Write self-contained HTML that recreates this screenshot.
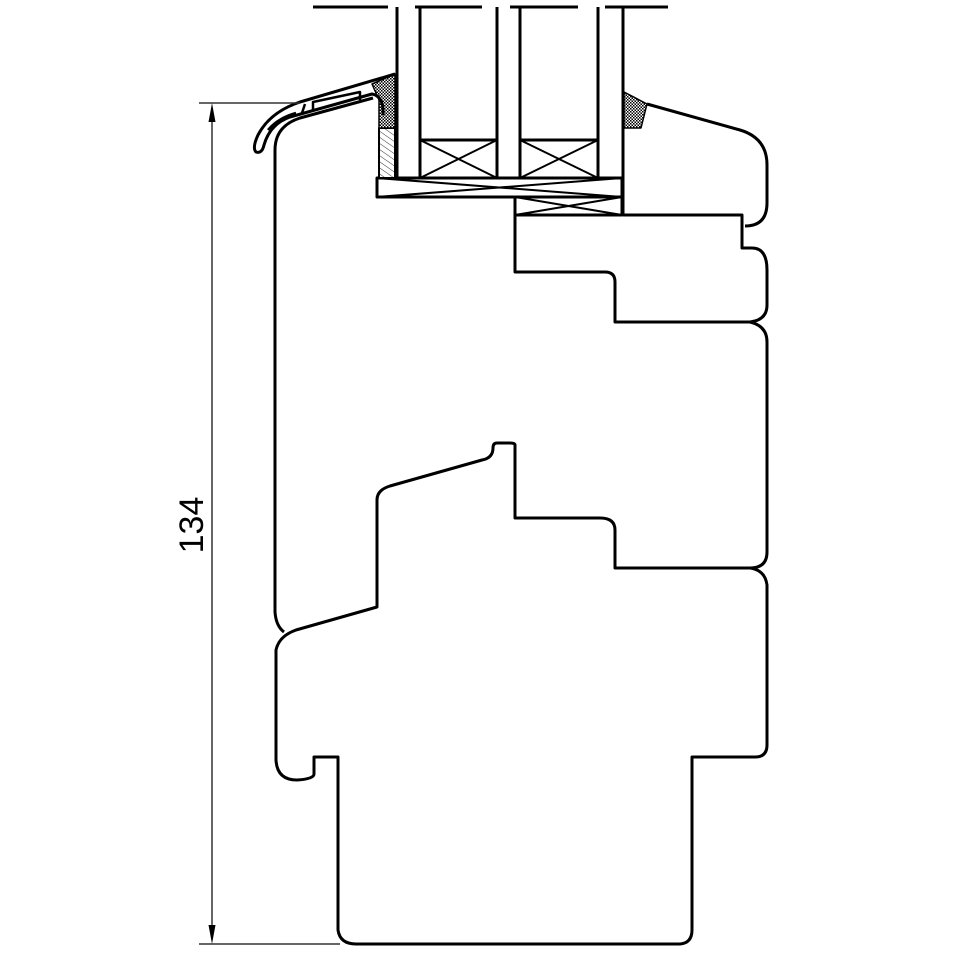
<!DOCTYPE html>
<html><head><meta charset="utf-8"><style>html,body{margin:0;padding:0;background:#fff}svg{display:block}</style></head>
<body>
<svg width="960" height="960" viewBox="0 0 960 960" xmlns="http://www.w3.org/2000/svg">
<defs>
<pattern id="dots" width="3" height="3" patternUnits="userSpaceOnUse"><rect width="3" height="3" fill="#fff"/><rect width="1.5" height="1.5" fill="#000"/><rect x="1.5" y="1.5" width="1.5" height="1.5" fill="#000"/></pattern>
<pattern id="hatch" width="5" height="5" patternUnits="userSpaceOnUse" patternTransform="rotate(-55)"><rect width="5" height="5" fill="#fff"/><line x1="0" y1="0" x2="0" y2="5" stroke="#333" stroke-width="1"/></pattern>
</defs>
<g fill="none" stroke="#000" stroke-width="3" stroke-linejoin="round">
<path d="M313 7H388 M415 7H482 M510 7H578 M605 7H668"/>
<path d="M397 7V178 M420 7V178 M497 7V178 M520 7V178 M598 7V178 M623 7V215"/>
<rect x="420" y="140" width="77" height="38"/>
<path d="M420 140L497 178 M497 140L420 178" stroke-width="2"/>
<rect x="520" y="140" width="78" height="38"/>
<path d="M520 140L598 178 M598 140L520 178" stroke-width="2"/>
<rect x="377" y="178" width="245" height="19"/>
<path d="M377 178L622 197 M622 178L377 197" stroke-width="2"/>
<rect x="515" y="197" width="107" height="18"/>
<path d="M515 197L622 215 M622 197L515 215" stroke-width="2"/>
<rect x="379" y="128" width="16" height="50" fill="url(#hatch)" stroke-width="2"/>
<path d="M372 84L395 74V128H379V100Z" fill="url(#dots)" stroke-width="1.5"/>
<path d="M624 92L647 104L641 128H624Z" fill="url(#dots)" stroke-width="1.5"/>
<path d="M395 74L300 102Q270 112 258 135Q252 148 256 152Q262 154 264 145Q270 124 290 117L372 94Q384 96 383 115" stroke-width="3"/>
<path d="M268 130Q278 118 296 113 M302 113L305 104 M313 110V102 L360 92V100" stroke-width="2.5"/>
<path d="M373 98L300 118Q275 126 275 150V612Q276 626 284 632"/>
<path d="M647 104L740 130Q767 138 767 165V203Q767 226 745 226"/>
<path d="M515 197V272H605Q615 272 615 282V322H750Q767 320 767 305V270Q767 248 752 248H742V215H623"/>
<path d="M750 322Q767 326 767 342V552Q767 568 750 568H615V530Q615 518 600 518H515V445Q515 443 510 443H497Q493 443 493 448Q493 458 482 460L390 486Q377 490 377 500V607L296 630Q279 636 276 650V760Q277 780 297 780Q314 779 314 774V757H338V930Q340 944 356 944H680Q692 943 692 930V757H755Q767 757 767 745V585Q765 570 750 568"/>
</g>
<g stroke="#333" stroke-width="1.5" fill="none">
<path d="M199 103H300 M199 944H340 M212 118V929"/>
</g>
<path d="M212 103L208.5 122H215.5Z M212 944L208.5 925H215.5Z" fill="#000"/>
<text x="0" y="0" transform="translate(203 525) rotate(-90)" font-family="Liberation Sans, sans-serif" font-size="34" text-anchor="middle" fill="#000">134</text>
</svg>
</body></html>
